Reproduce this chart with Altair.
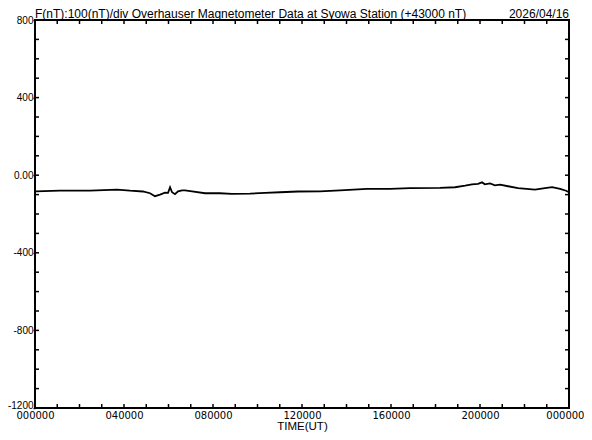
import altair as alt
import pandas as pd

# Data (hours UT, F - 43000 nT)
hours = [0.04, 1.12, 2.47, 3.69, 4.27, 4.85, 5.17, 5.39, 5.62, 5.84, 5.98, 6.07, 6.16,
         6.29, 6.43, 6.61, 6.74, 7.06, 7.64, 8.31, 8.85, 9.66, 10.34, 11.01, 11.82,
         12.81, 13.71, 14.92, 15.96, 16.85, 18.2, 18.88, 19.33, 19.64, 19.91, 20.09,
         20.22, 20.45, 20.67, 20.9, 21.26, 21.71, 22.47, 22.92, 23.24, 23.6, 23.87, 24.0]
values = [-83, -80, -79, -74, -80, -84, -93, -108, -100, -90, -91, -62, -88,
          -98, -83, -78, -78, -83, -93, -93, -96, -95, -91, -88, -84,
          -83, -78, -71, -70, -67, -65, -62, -54, -47, -45, -37,
          -47, -42, -52, -49, -57, -67, -74, -67, -62, -70, -80, -88]

x_ticks = list(range(0, 25))
x_label_vals = [0, 4, 8, 12, 16, 20, 24]
y_ticks = list(range(-1200, 801, 100))
y_label_vals = [-1200, -800, -400, 0, 400, 800]

title_left = "F(nT):100(nT)/div  Overhauser Magnetometer Data at Syowa Station (+43000 nT)"
title_right = "2026/04/16"

W, H = 534, 388

xscale = alt.Scale(domain=[0, 24], nice=False, zero=False)
yscale = alt.Scale(domain=[-1200, 800], nice=False, zero=False)

xaxis = alt.Axis(values=x_label_vals, ticks=False, domain=False, grid=False,
                 labelExpr="(datum.value % 24 < 10 ? '0' : '') + toString(datum.value % 24) + '0000'",
                 labelFont="DejaVu Sans", labelFontSize=10, labelColor="black",
                 labelAlign={"condition": {"test": "datum.value == 24", "value": "right"}, "value": "center"},
                 labelOffset={"condition": {"test": "datum.value == 24", "value": 15}, "value": 0},
                 labelPadding=2, labelFlush=False, labelOverlap=False, labelBound=False,
                 titleFont="Liberation Sans", titleFontSize=11.5, titleFontWeight="normal",
                 titleColor="black", titlePadding=0)
yaxis = alt.Axis(values=y_label_vals, ticks=True, tickSize=2, tickWidth=1.5,
                 tickColor="black", domain=False, grid=False,
                 labelExpr="datum.value == 0 ? '0.00' : toString(datum.value)",
                 labelBaseline={"condition": {"test": "datum.value == -1200", "value": "alphabetic"},
                                "value": "middle"},
                 labelFont="Liberation Sans", labelFontSize=10, labelColor="black",
                 labelPadding=0, labelFlush=False, labelOverlap=False, labelBound=False)

XT = "TIME(UT)"

df = pd.DataFrame({"h": hours, "v": values})
xt = pd.DataFrame({"t": x_ticks})
yt = pd.DataFrame({"t": y_ticks})

line = alt.Chart(df).mark_line(color="black", strokeWidth=1.8).encode(
    x=alt.X("h:Q", scale=xscale, title=XT, axis=xaxis),
    y=alt.Y("v:Q", scale=yscale, title=None, axis=yaxis),
)

bottom_ticks = alt.Chart(xt).mark_rule(color="black", strokeWidth=1.5).encode(
    x=alt.X("t:Q", scale=xscale, title=XT, axis=xaxis), y=alt.value(H), y2=alt.value(H - 4))
top_ticks = alt.Chart(xt).mark_rule(color="black", strokeWidth=1.5).encode(
    x=alt.X("t:Q", scale=xscale, title=XT, axis=xaxis), y=alt.value(0), y2=alt.value(4))
left_ticks = alt.Chart(yt).mark_rule(color="black", strokeWidth=1.5).encode(
    y=alt.Y("t:Q", scale=yscale, title=None, axis=yaxis), x=alt.value(0), x2=alt.value(4))
right_ticks = alt.Chart(yt).mark_rule(color="black", strokeWidth=1.5).encode(
    y=alt.Y("t:Q", scale=yscale, title=None, axis=yaxis), x=alt.value(W), x2=alt.value(W - 4))

tl = alt.Chart(pd.DataFrame({"s": [title_left]})).mark_text(
    align="left", baseline="alphabetic", dy=-2, font="Liberation Sans", fontSize=12, color="black"
).encode(x=alt.X(datum=0, scale=xscale, title=XT, axis=xaxis),
         y=alt.Y(datum=800, scale=yscale, title=None, axis=yaxis), text="s:N")
tr = alt.Chart(pd.DataFrame({"s": [title_right]})).mark_text(
    align="right", baseline="alphabetic", dy=-2, font="Liberation Sans", fontSize=12, color="black"
).encode(x=alt.X(datum=24, scale=xscale, title=XT, axis=xaxis),
         y=alt.Y(datum=800, scale=yscale, title=None, axis=yaxis), text="s:N")

chart = alt.layer(line, bottom_ticks, top_ticks, left_ticks, right_ticks, tl, tr).properties(
    width=W, height=H,
    autosize=alt.AutoSizeParams(type="none"),
    padding={"left": 27, "top": 12, "right": 15, "bottom": 24},
    background="white",
).configure_view(stroke="black", strokeWidth=2)

chart.save("out.html", embed_options={"renderer": "svg", "actions": False})
